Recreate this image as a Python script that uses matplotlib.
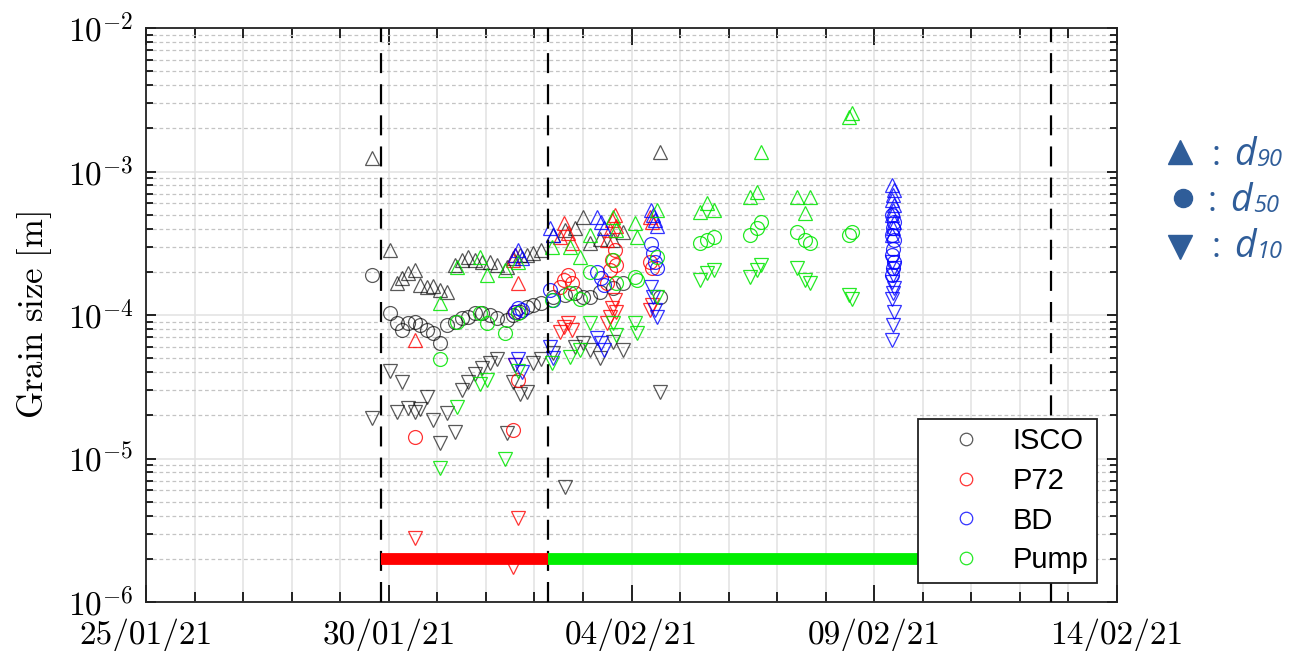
import datetime as dt
import numpy as np
import matplotlib
matplotlib.use("Agg")
import matplotlib.pyplot as plt
import matplotlib.dates as mdates
from matplotlib.lines import Line2D
from matplotlib.ticker import FixedLocator, FuncFormatter, LogLocator, NullFormatter
import matplotlib.transforms as mtransforms

plt.rcParams['mathtext.fontset'] = 'cm'

# ---------------- data (time in days after 25/01/21 00:00, sizes in m) -------------
isco_t = [4.65, 5.03, 5.17, 5.27, 5.40, 5.54, 5.64, 5.79, 5.91, 6.06, 6.20, 6.36, 6.51, 6.63,
          6.78, 6.92, 7.09, 7.23, 7.44, 7.56, 7.70, 7.85, 7.97, 8.14, 8.38, 8.63, 8.84, 9.00,
          9.15, 9.35, 9.62, 9.82, 10.59]
isco_d90 = [1.24e-3, 2.84e-4, 1.67e-4, 1.81e-4, 1.96e-4, 2.06e-4, 1.62e-4, 1.57e-4, 1.6e-4,
            1.49e-4, 1.45e-4, 2.23e-4, 2.42e-4, 2.54e-4, 2.42e-4, 2.34e-4, 2.34e-4, 2.23e-4,
            2.16e-4, 2.5e-4, 2.6e-4, 2.63e-4, 2.7e-4, 2.84e-4, 3.61e-4, 3.9e-4, 4.04e-4,
            4.82e-4, 3.18e-4, 3.4e-4, 3.33e-4, 3.79e-4, 1.37e-3]
isco_d50 = [1.9e-4, 1.03e-4, 8.8e-5, 7.9e-5, 8.8e-5, 8.9e-5, 8.5e-5, 7.9e-5, 7.5e-5, 6.4e-5,
            8.5e-5, 8.9e-5, 9.5e-5, 9.7e-5, 1.03e-4, 1.03e-4, 1.0e-4, 9.5e-5, 9.2e-5, 1.0e-4,
            1.05e-4, 1.14e-4, 1.17e-4, 1.21e-4, 1.33e-4, 1.38e-4, 1.42e-4, 1.33e-4, 1.33e-4,
            1.45e-4, 1.55e-4, 1.67e-4, 1.33e-4]
isco_d10 = [1.9e-5, 4.1e-5, 2.1e-5, 3.4e-5, 2.25e-5, 2.1e-5, 2.2e-5, 2.7e-5, 1.85e-5, 1.28e-5,
            2.07e-5, 1.53e-5, 3.0e-5, 3.4e-5, 3.9e-5, 4.3e-5, 4.6e-5, 4.9e-5, 1.51e-5, 3.4e-5,
            2.8e-5, 2.9e-5, 4.6e-5, 4.9e-5, 5.4e-5, 6.3e-6, 6.0e-5, 6.4e-5, 5.7e-5, 5.0e-5,
            6.5e-5, 5.7e-5, 2.9e-5]

p72_t = [5.54, 7.60, 7.66, 7.56, 8.53, 8.61, 8.69, 8.77, 9.50, 9.56, 9.60, 9.66, 9.68, 10.38, 10.42]
p72_d90 = [6.7e-5, 2.63e-4, 1.67e-4, 2.42e-4, 3.5e-4, 4.38e-4, 3.72e-4, 3.18e-4, 3.33e-4,
           3.9e-4, 4.59e-4, 5.0e-4, 4.2e-4, 4.82e-4, 4.45e-4]
p72_d50 = [1.41e-5, 1.05e-4, 3.5e-5, 1.58e-5, 1.57e-4, 1.75e-4, 1.9e-4, 1.67e-4, 1.67e-4,
           2.06e-4, 2.42e-4, 2.84e-4, 2.23e-4, 2.34e-4, 2.12e-4]
p72_d10 = [2.8e-6, 4.5e-5, 3.85e-6, 1.75e-6, 7.6e-5, 8.2e-5, 8.8e-5, 7.9e-5, 8.8e-5,
           9.7e-5, 1.12e-4, 1.27e-4, 1.05e-4, 1.08e-4, 1.17e-4]

bd_t = [7.60, 7.66, 7.74, 8.32, 8.38, 9.29, 9.37, 9.43, 10.40, 10.44, 10.48, 10.53,
        15.37, 15.41, 15.39, 15.37, 15.41, 15.39, 15.37, 15.41, 15.39, 15.37]
bd_d90 = [2.63e-4, 2.84e-4, 2.5e-4, 4.04e-4, 3.61e-4, 4.82e-4, 4.45e-4, 4.04e-4, 5.4e-4,
          5.0e-4, 4.59e-4, 4.2e-4, 8.05e-4, 7.4e-4, 6.9e-4, 6.3e-4, 5.8e-4, 5.4e-4, 5.0e-4,
          4.45e-4, 4.04e-4, 3.61e-4]
bd_d50 = [1.05e-4, 1.12e-4, 1.08e-4, 1.49e-4, 1.27e-4, 2.0e-4, 1.81e-4, 1.62e-4, 3.1e-4,
          2.7e-4, 2.34e-4, 2.12e-4, 5.0e-4, 4.45e-4, 4.04e-4, 3.61e-4, 3.33e-4, 2.9e-4,
          2.63e-4, 2.34e-4, 2.12e-4, 1.9e-4]
bd_d10 = [4.5e-5, 4.9e-5, 4.0e-5, 6.0e-5, 5.0e-5, 6.9e-5, 6.4e-5, 5.7e-5, 1.57e-4, 1.33e-4,
          1.08e-4, 9.7e-5, 2.34e-4, 2.12e-4, 1.9e-4, 1.7e-4, 1.55e-4, 1.43e-4, 1.3e-4,
          1.05e-4, 8.5e-5, 6.7e-5]

pump_t = [6.06, 6.41, 6.88, 7.02, 7.39, 7.66, 8.36, 8.73, 8.94, 9.15, 9.62, 9.68, 10.07,
          10.11, 10.53, 11.41, 11.56, 11.70, 12.44, 12.59, 12.67, 13.41, 13.57, 13.68,
          14.48, 14.54]
pump_d90 = [1.21e-4, 2.16e-4, 2.54e-4, 1.9e-4, 2.06e-4, 2.34e-4, 2.98e-4, 2.98e-4, 2.54e-4,
            3.61e-4, 4.82e-4, 3.9e-4, 4.38e-4, 3.5e-4, 5.4e-4, 5.2e-4, 6.0e-4, 5.4e-4,
            6.6e-4, 7.2e-4, 1.37e-3, 6.6e-4, 5.14e-4, 6.6e-4, 2.4e-3, 2.56e-3]
pump_d50 = [4.9e-5, 8.9e-5, 1.03e-4, 8.8e-5, 7.5e-5, 1.03e-4, 1.27e-4, 1.42e-4, 1.3e-4,
            2.0e-4, 2.42e-4, 1.67e-4, 1.84e-4, 1.75e-4, 2.54e-4, 3.18e-4, 3.33e-4, 3.5e-4,
            3.61e-4, 4.04e-4, 4.45e-4, 3.79e-4, 3.33e-4, 3.18e-4, 3.61e-4, 3.79e-4]
pump_d10 = [8.6e-6, 2.3e-5, 3.3e-5, 3.5e-5, 1.0e-5, 4.1e-5, 4.6e-5, 5.1e-5, 5.7e-5,
            8.8e-5, 8.8e-5, 7.3e-5, 8.8e-5, 7.5e-5, 1.33e-4, 1.75e-4, 1.96e-4, 2.06e-4,
            1.84e-4, 2.06e-4, 2.23e-4, 2.12e-4, 1.75e-4, 1.67e-4, 1.38e-4, 1.3e-4]

series_names = ['ISCO', 'P72', 'BD', 'Pump']
event_lines = [4.84, 8.28, 18.64]       # dashed vertical lines (days after 25/01)
phase_bar_y = 2e-6
x_tick_labels = ['25/01/21', '30/01/21', '04/02/21', '09/02/21', '14/02/21']
y_tick_labels = ['$10^{-6}$', '$10^{-5}$', '$10^{-4}$', '$10^{-3}$', '$10^{-2}$']

# ---------------- figure ----------------------------------------------------------
W, H = 1291, 651
fig = plt.figure(figsize=(W / 100, H / 100), dpi=100)
ax = fig.add_axes([146 / W, 1 - 602 / H, (1117 - 146) / W, (602 - 28) / H])

base = mdates.date2num(dt.datetime(2021, 1, 25))


def X(t):
    return base + np.asarray(t, dtype=float)


colors = {'ISCO': (0, 0, 0, 0.65), 'P72': (1, 0, 0, 0.8),
          'BD': (0, 0, 1, 0.8), 'Pump': (0, 0.9, 0, 0.85)}
data = {'ISCO': (isco_t, isco_d90, isco_d50, isco_d10),
        'P72': (p72_t, p72_d90, p72_d50, p72_d10),
        'BD': (bd_t, bd_d90, bd_d50, bd_d10),
        'Pump': (pump_t, pump_d90, pump_d50, pump_d10)}

ms = 10
mew = 0.9
for name in series_names:
    t, d90, d50, d10 = data[name]
    c = colors[name]
    ax.plot(X(t), d90, linestyle='none', marker='^', ms=ms + 0.5, mfc='none', mec=c, mew=mew, zorder=3)
    ax.plot(X(t), d50, linestyle='none', marker='o', ms=ms, mfc='none', mec=c, mew=mew, zorder=3)
    ax.plot(X(t), d10, linestyle='none', marker='v', ms=ms + 0.5, mfc='none', mec=c, mew=mew, zorder=3)

for d in event_lines:
    ax.axvline(X(d), color='black', lw=1.6, dashes=(9, 5), zorder=4)

ax.plot([X(event_lines[0]), X(event_lines[1])], [phase_bar_y, phase_bar_y],
        color='#ff0000', lw=8.5, solid_capstyle='butt', zorder=5)
ax.plot([X(event_lines[1]), X(event_lines[2])], [phase_bar_y, phase_bar_y],
        color='#00ee00', lw=8.5, solid_capstyle='butt', zorder=5)

ax.set_yscale('log')
ax.set_ylim(1e-6, 1e-2)
ax.set_xlim(X(0), X(20))

major_x = [X(5 * k) for k in range(len(x_tick_labels))]
ax.xaxis.set_major_locator(FixedLocator(major_x))
ax.xaxis.set_minor_locator(FixedLocator([X(k) for k in range(21)]))
ax.xaxis.set_major_formatter(FuncFormatter(
    lambda v, p: x_tick_labels[int(round((v - base) / 5))]))

ax.yaxis.set_major_locator(FixedLocator([1e-6, 1e-5, 1e-4, 1e-3, 1e-2]))
ax.yaxis.set_minor_locator(LogLocator(base=10, subs=np.arange(2, 10)))
ax.yaxis.set_minor_formatter(NullFormatter())
ax.yaxis.set_major_formatter(FuncFormatter(
    lambda v, p: y_tick_labels[int(round(np.log10(v))) + 6]))

ax.tick_params(axis='both', which='both', direction='in', top=True, right=True,
               colors='black', width=1.2, labelsize=24)
ax.tick_params(axis='x', which='major', length=12, pad=12, labelsize=24,
               labelfontfamily='cmr10')
ax.tick_params(axis='x', which='minor', length=7)
ax.tick_params(axis='y', which='major', length=7, pad=9)
ax.tick_params(axis='y', which='minor', length=5)

ax.grid(True, which='major', axis='both', color='#e2e2e2', lw=1.1, ls='-', zorder=0)
ax.grid(True, which='minor', axis='x', color='#e2e2e2', lw=1.1, ls='-', zorder=0)
ax.grid(True, which='minor', axis='y', color='#c4c4c4', lw=0.9, dashes=(3, 2.2), zorder=0)
ax.set_axisbelow(True)

for s in ax.spines.values():
    s.set_linewidth(1.3)
    s.set_color('#222222')

ax.set_ylabel(r'$\mathrm{Grain\ size\ [m]}$', fontsize=25, labelpad=10)

handles = [Line2D([], [], ls='none', marker='o', ms=9, mfc='none', mec=colors[n], mew=0.9)
           for n in series_names]
leg = ax.legend(handles, series_names, loc='lower right', bbox_to_anchor=(0.9795, 0.033),
                prop={'family': 'Liberation Sans', 'size': 21}, frameon=True, fancybox=False,
                framealpha=1, edgecolor='#222222', labelspacing=0.4, handletextpad=0.25,
                handlelength=2.7, borderpad=0.3, borderaxespad=0)
leg.get_frame().set_linewidth(1.3)
leg.set_zorder(10)

# ---------------- right-hand key -------------------------------------------------
key_color = '#2f5d99'
idt = mtransforms.IdentityTransform()
keys = [('^', 1180, 152, 165, '90'), ('o', 1183, 198, 211, '50'), ('v', 1180, 247, 257, '10')]
for mk, mx, my, base_y, sub in keys:
    fig.add_artist(Line2D([mx], [H - my], marker=mk, ms=17 if mk != 'o' else 13, color=key_color,
                          ls='none', transform=idt))
    xo = 0 if mk != 'o' else -4
    fig.text(1212 + xo, H - base_y, ':', transform=idt, fontsize=25, color=key_color,
             family='Open Sans', va='baseline', ha='left')
    fig.text(1234 + xo, H - base_y, 'd', transform=idt, fontsize=27, color=key_color,
             family='Open Sans', style='italic', va='baseline', ha='left')
    fig.text(1257 + xo, H - base_y - 1, sub, transform=idt, fontsize=17, color=key_color,
             family='Open Sans', style='italic', va='baseline', ha='left')

fig.savefig('out.png', dpi=100)
